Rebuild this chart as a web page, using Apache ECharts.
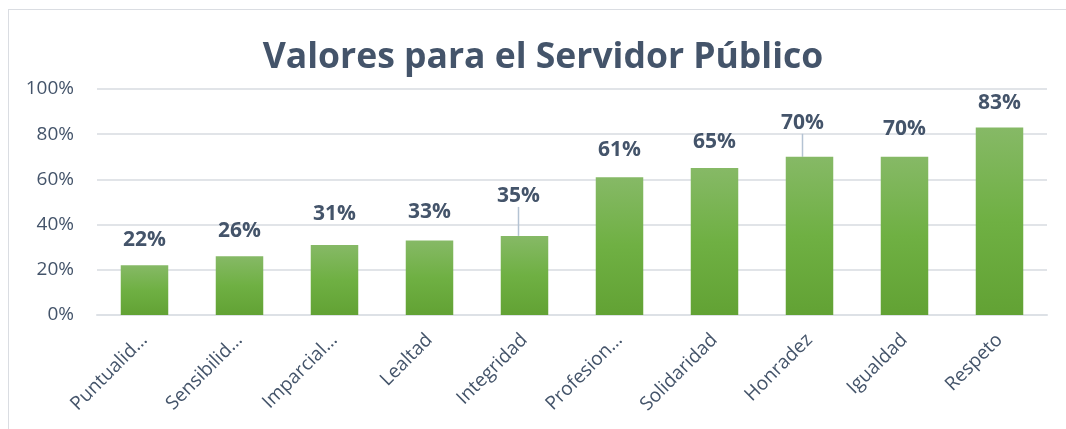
<!DOCTYPE html>
<html>
<head>
<meta charset="utf-8">
<script src="https://cdn.jsdelivr.net/npm/echarts@6/dist/echarts.min.js"></script>
<style>
  html, body { margin: 0; padding: 0; background: #fff; overflow: hidden; }
  #frame { position: absolute; left: 8px; top: 9px; width: 1100px; height: 500px; border: 1.5px solid #dadde2; }
  #main { position: absolute; left: 0; top: 0; width: 1066px; height: 429px; }
</style>
</head>
<body>
<div id="frame"></div>
<div id="main"></div>
<script>
'use strict';

var categories = ['Puntualid…', 'Sensibilid…', 'Imparcial…', 'Lealtad', 'Integridad',
                  'Profesion…', 'Solidaridad', 'Honradez', 'Igualdad', 'Respeto'];
var values = [22, 26, 31, 33, 35, 61, 65, 70, 70, 83];
var yTicks = [0, 20, 40, 60, 80, 100];

var textColor = '#44546a';
var font = '"Open Sans", sans-serif';

// label nudges, as Excel left them (leader lines on two)
var nudge = [[0, -10], [0, -10], [0, -15], [0, -13], [-6, -24],
             [0, -12], [0, -11], [-7, -18], [0, -12], [0, -9]];

var myChart = echarts.init(document.getElementById('main'));
var option = {
  title: {
    text: 'Valores para el Servidor Público',
    left: 538,
    textAlign: 'center',
    top: 35,
    textStyle: { fontFamily: font, fontSize: 35.5, fontWeight: 'bold', color: textColor }
  },
  grid: { left: 97, right: 19, top: 89, bottom: 114 },
  xAxis: {
    type: 'category',
    data: categories,
    axisTick: { show: false },
    axisLine: { lineStyle: { color: '#dde1e6', width: 2 } },
    axisLabel: { rotate: 45, margin: 22, fontFamily: font, fontSize: 19, color: textColor }
  },
  yAxis: {
    type: 'value',
    min: yTicks[0],
    max: yTicks[yTicks.length - 1],
    interval: 20,
    axisLabel: { formatter: '{value}%', margin: 23, fontFamily: font, fontSize: 19, color: textColor },
    splitLine: { lineStyle: { color: '#e1e4e8', width: 2 } }
  },
  series: [{
    type: 'bar',
    barWidth: '50%',
    data: values.map(function (v, i) {
      return { value: v, labelLine: { show: i === 4 || i === 7 } };
    }),
    itemStyle: {
      color: new echarts.graphic.LinearGradient(0, 0, 0, 1, [
        { offset: 0, color: '#86b966' },
        { offset: 0.5, color: '#6fb043' },
        { offset: 1, color: '#62a234' }
      ])
    },
    label: {
      show: true,
      position: 'top',
      distance: 5,
      formatter: '{c}%',
      fontFamily: font,
      fontSize: 21,
      fontWeight: 'bold',
      color: textColor
    },
    labelLine: { lineStyle: { color: '#b4c3d3', width: 1.5 } },
    labelLayout: function (p) {
      return { dx: nudge[p.dataIndex][0], dy: nudge[p.dataIndex][1] };
    }
  }]
};
myChart.setOption(option);
</script>
</body>
</html>
